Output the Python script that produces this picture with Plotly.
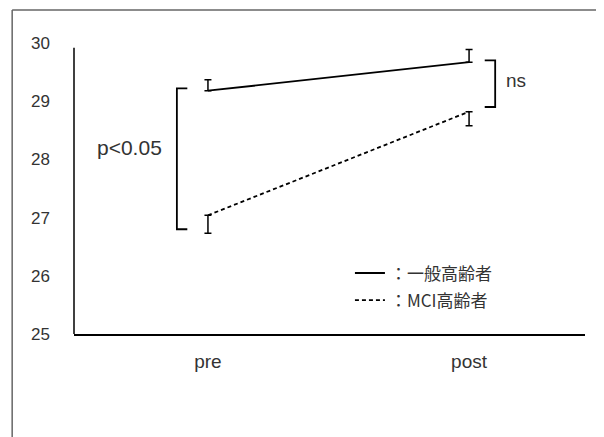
import plotly.graph_objects as go

# ---- data ----
categories = ["pre", "post"]
general_mean = [29.18, 29.67]      # 一般高齢者
general_err_up = [0.19, 0.22]
mci_mean = [27.04, 28.82]          # MCI高齢者
mci_err_down = [0.31, 0.24]
y_ticks = [25, 26, 27, 28, 29, 30]
series_names = ["：一般高齢者", "：MCI高齢者"]
# significance brackets: label, category position, top, bottom, label y
brackets = [("p<0.05", 0, 29.22, 26.80, 28.2), ("ns", 1, 29.70, 28.90, 29.36)]

xpos = list(range(len(categories)))
fig = go.Figure()
fig.add_trace(go.Scatter(
    x=xpos, y=general_mean, mode="lines", name=series_names[0],
    line=dict(color="black", width=1.8), legendgroup="a",
    error_y=dict(type="data", symmetric=False, array=general_err_up,
                 arrayminus=[0] * len(general_mean), color="black",
                 thickness=1.5, width=3.5)))
fig.add_trace(go.Scatter(
    x=xpos, y=mci_mean, mode="lines", name=series_names[1],
    line=dict(color="black", width=1.8, dash="4px,3px"), legendgroup="b",
    error_y=dict(type="data", symmetric=False, array=[0] * len(mci_mean),
                 arrayminus=mci_err_down, color="black",
                 thickness=1.5, width=3.5)))

shapes = []
# y axis line (starts just below the 30 tick)
shapes.append(dict(type="line", xref="paper", yref="y", x0=0, x1=0,
                   y0=y_ticks[0], y1=29.92, line=dict(color="black", width=1.5)))
# brackets
tick = 0.04
for label, pos, top, bot, ly in brackets:
    if pos == 0:
        xb = pos - 0.119
        xt = xb + tick
        tx = pos - 0.30
    else:
        xb = pos + 0.100
        xt = xb - tick
        tx = pos + 0.18
    shapes.append(dict(type="path", xref="x", yref="y",
                       path=f"M {xt} {top} L {xb} {top} L {xb} {bot} L {xt} {bot}",
                       line=dict(color="black", width=1.8)))
    fig.add_annotation(x=tx, y=ly, text=label, showarrow=False,
                       font=dict(size=21 if pos == 0 else 19, color="#333",
                                 family="Liberation Sans"))
# outer frame
shapes.append(dict(type="line", xref="paper", yref="paper", x0=-0.121, x1=1.1,
                   y0=1.113, y1=1.113, line=dict(color="#666", width=1.5)))
shapes.append(dict(type="line", xref="paper", yref="paper", x0=-0.121, x1=-0.121,
                   y0=1.113, y1=-0.36, line=dict(color="#666", width=1.5)))
fig.update_layout(shapes=shapes)

fig.update_layout(
    width=596, height=429,
    margin=dict(l=66, r=19, t=35, b=103),
    paper_bgcolor="white", plot_bgcolor="white",
    font=dict(family="Liberation Sans", color="#333", size=17),
    xaxis=dict(range=[-0.513, 1.444], tickvals=xpos, ticktext=categories,
               showline=True, linecolor="black", linewidth=1.5,
               showgrid=False, zeroline=False, ticks="", ticklabelstandoff=9,
               tickfont=dict(size=19, color="#333")),
    yaxis=dict(range=[25, 30], tickvals=y_ticks, showline=False,
               showgrid=False, zeroline=False, ticks="", ticklabelstandoff=23,
               tickfont=dict(size=17, color="#333")),
    legend=dict(x=0.54, y=0.27, xanchor="left", yanchor="top",
                bgcolor="rgba(0,0,0,0)", tracegroupgap=2,
                font=dict(size=17, color="#333", family="Noto Sans CJK JP")),
    showlegend=True,
)

fig.write_html("out.html")
